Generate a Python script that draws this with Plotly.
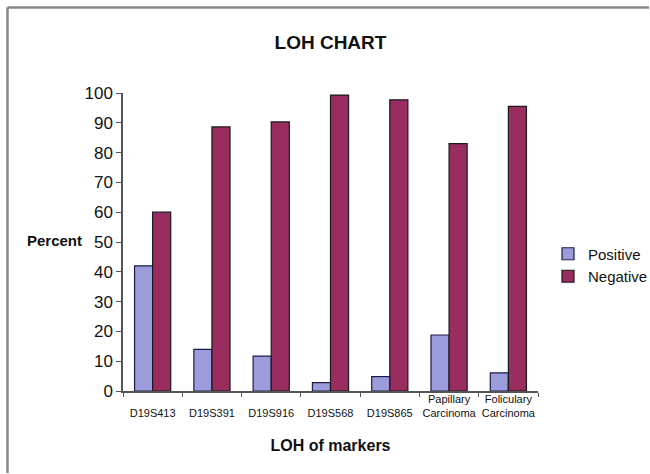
import plotly.graph_objects as go

categories = ["D19S413", "D19S391", "D19S916", "D19S568", "D19S865",
              "Papillary Carcinoma", "Foliculary Carcinoma"]
tick_labels = [" <br>D19S413", " <br>D19S391", " <br>D19S916", " <br>D19S568",
               " <br>D19S865", "Papillary<br>Carcinoma", "Foliculary<br>Carcinoma"]
positive = [42, 14, 11.7, 2.8, 4.8, 18.8, 6.1]
negative = [60, 88.6, 90.3, 99.3, 97.7, 83, 95.5]

font = "Liberation Sans, Arial, sans-serif"

fig = go.Figure()
fig.add_trace(go.Bar(x=categories, y=positive, name="Positive",
                     marker=dict(color="#9C9CDC", line=dict(color="#1C1C48", width=1.2))))
fig.add_trace(go.Bar(x=categories, y=negative, name="Negative",
                     marker=dict(color="#992D5F", line=dict(color="#1A1A1A", width=1.2))))

# plot area geometry in pixels
L, R, T, B = 123, 538, 93, 391
W, H = 650, 474
pw, ph = R - L, B - T

def px_x(x):
    return (x - L) / pw

def px_y(y):
    return (B - y) / ph

fig.update_layout(
    width=W, height=H,
    margin=dict(l=L, r=W - R, t=T, b=H - B, autoexpand=False),
    paper_bgcolor="white", plot_bgcolor="white",
    barmode="group", bargap=0.39, bargroupgap=0,
    font=dict(family=font, color="#111111"),
    title=dict(text="<b>LOH CHART</b>", x=0.5, xref="paper", xanchor="center",
               y=1 - 42 / H, yanchor="middle", font=dict(size=19, family=font)),
    legend=dict(x=px_x(548), y=px_y(265), xanchor="left", yanchor="middle",
                font=dict(size=15, family=font), itemwidth=30,
                tracegroupgap=2, bgcolor="rgba(0,0,0,0)"),
    showlegend=True,
)

fig.update_xaxes(
    type="category", tickmode="array", tickvals=categories, ticktext=tick_labels,
    tickangle=0, automargin=False, ticklabelstandoff=-3,
    tickfont=dict(size=11, family=font), showline=True, linecolor="#555555", linewidth=1.5,
    ticks="outside", tickson="boundaries", ticklen=4, tickcolor="#555555",
    showgrid=False, zeroline=False,
    title=dict(text="<b>LOH of markers</b>", font=dict(size=16, family=font), standoff=22),
)
fig.update_yaxes(
    range=[0, 100], tickvals=list(range(0, 101, 10)), automargin=False,
    tickfont=dict(size=17, family=font), showline=True, linecolor="#555555", linewidth=1.5,
    ticks="outside", ticklen=5, tickcolor="#555555", showgrid=False, zeroline=False,
)

fig.add_annotation(text="<b>Percent</b>", xref="paper", yref="paper",
                   x=px_x(54), y=px_y(241), xanchor="center", yanchor="middle",
                   showarrow=False, font=dict(size=15, family=font))

# outer frame lines (left and top)
fig.add_shape(type="line", xref="paper", yref="paper",
              x0=px_x(7.5), x1=px_x(7.5), y0=px_y(7.5), y1=px_y(H - 1),
              line=dict(color="#888888", width=2.5))
fig.add_shape(type="line", xref="paper", yref="paper",
              x0=px_x(7.5), x1=px_x(W - 1), y0=px_y(7.5), y1=px_y(7.5),
              line=dict(color="#888888", width=2.5))

fig.write_html("out.html", config={"displayModeBar": False},
               post_script="document.body.style.margin='0';document.body.style.padding='0';")
